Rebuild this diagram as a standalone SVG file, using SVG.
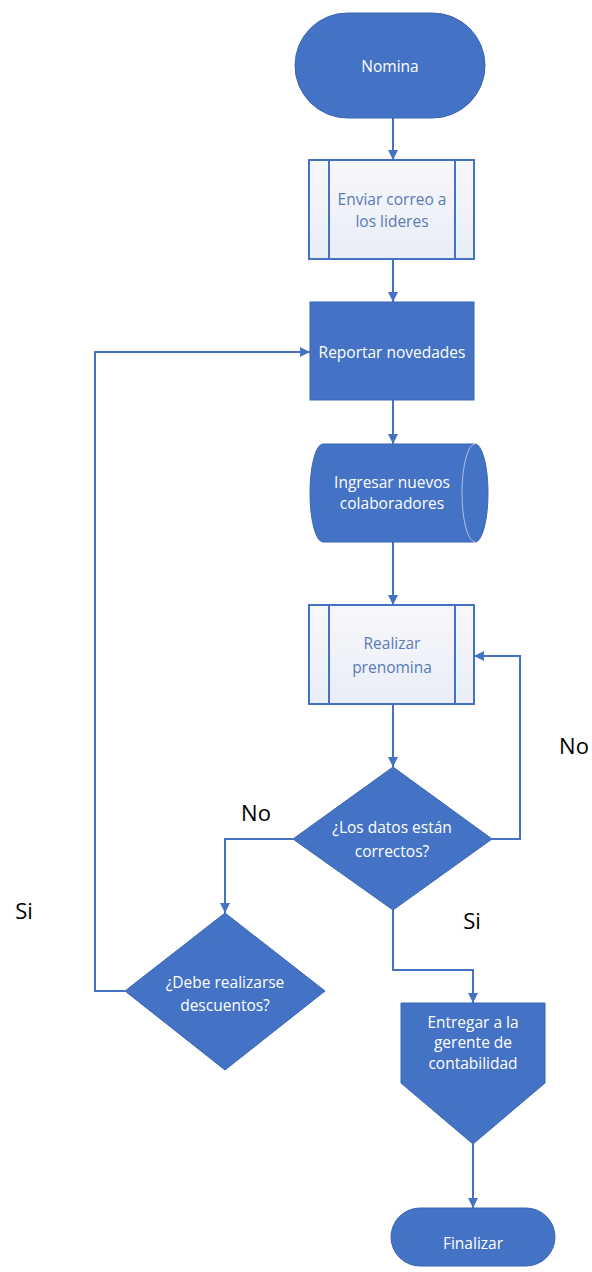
<svg xmlns="http://www.w3.org/2000/svg" width="592" height="1272" viewBox="0 0 592 1272">
  <defs>
    <linearGradient id="subFill" x1="0" y1="0" x2="0" y2="1">
      <stop offset="0" stop-color="#f7f8fc"/>
      <stop offset="1" stop-color="#e9edf5"/>
    </linearGradient>
    <marker id="arrow" viewBox="0 0 10 10" refX="10" refY="5" markerWidth="5" markerHeight="5" orient="auto" markerUnits="strokeWidth">
      <path d="M0,0 L10,5 L0,10 z" fill="#4472c4"/>
    </marker>
  </defs>
  <style>
    .solid { fill: #4472c4; stroke: #3a65b3; stroke-width: 1; }
    .sub { fill: url(#subFill); stroke: #4472c4; stroke-width: 2; }
    .wt { font-family: "Open Sans", "Liberation Sans", sans-serif; font-size: 15.5px; fill: #ffffff; text-anchor: middle; dominant-baseline: central; }
    .bt { font-family: "Open Sans", "Liberation Sans", sans-serif; font-size: 15.5px; fill: #5a7bb8; text-anchor: middle; dominant-baseline: central; }
    .lbl { font-family: "Open Sans", "Liberation Sans", sans-serif; font-size: 22px; fill: #000000; text-anchor: middle; dominant-baseline: central; }
    .conn { fill: none; stroke: #4472c4; stroke-width: 2; marker-end: url(#arrow); }
  </style>
  <rect width="592" height="1272" fill="#ffffff"/>

  <g id="connectors">
    <path class="conn" d="M393,118 L393,160"/>
    <path class="conn" d="M393,259 L393,302"/>
    <path class="conn" d="M393,400 L393,444"/>
    <path class="conn" d="M393,542 L393,605"/>
    <path class="conn" d="M393,704 L393,767"/>
    <path class="conn" d="M492,839 L520,839 L520,656 L474,656"/>
    <path class="conn" d="M293,839 L225,839 L225,913"/>
    <path class="conn" d="M125,991 L95,991 L95,352 L310,352"/>
    <path class="conn" d="M393,910 L393,970 L473,970 L473,1003"/>
    <path class="conn" d="M473,1144 L473,1208"/>
  </g>

  <g id="labels">
    <text class="lbl" x="574" y="745">No</text>
    <text class="lbl" x="256" y="812">No</text>
    <text class="lbl" x="24" y="910">Si</text>
    <text class="lbl" x="472" y="920">Si</text>
  </g>

  <g id="nomina">
    <rect class="solid" x="295" y="13" width="190" height="105" rx="52.5"/>
    <text class="wt" x="390" y="66">Nomina</text>
  </g>

  <g id="enviar-correo">
    <rect class="sub" x="309" y="160" width="165" height="99"/>
    <line x1="329" y1="160" x2="329" y2="259" stroke="#4472c4" stroke-width="2"/>
    <line x1="455" y1="160" x2="455" y2="259" stroke="#4472c4" stroke-width="2"/>
    <text class="bt" x="392" y="199">Enviar correo a</text>
    <text class="bt" x="392" y="221">los lideres</text>
  </g>

  <g id="reportar-novedades">
    <rect class="solid" x="310" y="302" width="164" height="98"/>
    <text class="wt" x="392" y="352">Reportar novedades</text>
  </g>

  <g id="ingresar-colaboradores">
    <path class="solid" d="M323,444 L475,444 A13,49 0 0 1 475,542 L323,542 A13,49 0 0 1 323,444 Z"/>
    <path d="M475,444 A13,49 0 0 0 475,542" fill="none" stroke="#aec0e4" stroke-width="1"/>
    <text class="wt" x="392" y="482">Ingresar nuevos</text>
    <text class="wt" x="392" y="503">colaboradores</text>
  </g>

  <g id="realizar-prenomina">
    <rect class="sub" x="309" y="605" width="165" height="99"/>
    <line x1="329" y1="605" x2="329" y2="704" stroke="#4472c4" stroke-width="2"/>
    <line x1="455" y1="605" x2="455" y2="704" stroke="#4472c4" stroke-width="2"/>
    <text class="bt" x="392" y="643">Realizar</text>
    <text class="bt" x="392" y="667">prenomina</text>
  </g>

  <g id="datos-correctos">
    <polygon class="solid" points="393,767 492,839 393,910 293,839"/>
    <text class="wt" x="392" y="827">¿Los datos están</text>
    <text class="wt" x="392" y="851">correctos?</text>
  </g>

  <g id="realizar-descuentos">
    <polygon class="solid" points="225,913 325,991 225,1070 125,991"/>
    <text class="wt" x="225" y="982">¿Debe realizarse</text>
    <text class="wt" x="225" y="1005">descuentos?</text>
  </g>

  <g id="entregar-gerente">
    <polygon class="solid" points="401,1003 545,1003 545,1083 473,1144 401,1083"/>
    <text class="wt" x="473" y="1022">Entregar a la</text>
    <text class="wt" x="473" y="1042">gerente de</text>
    <text class="wt" x="473" y="1063">contabilidad</text>
  </g>

  <g id="finalizar">
    <rect class="solid" x="391" y="1208" width="164" height="58" rx="29"/>
    <text class="wt" x="473" y="1243">Finalizar</text>
  </g>
</svg>
